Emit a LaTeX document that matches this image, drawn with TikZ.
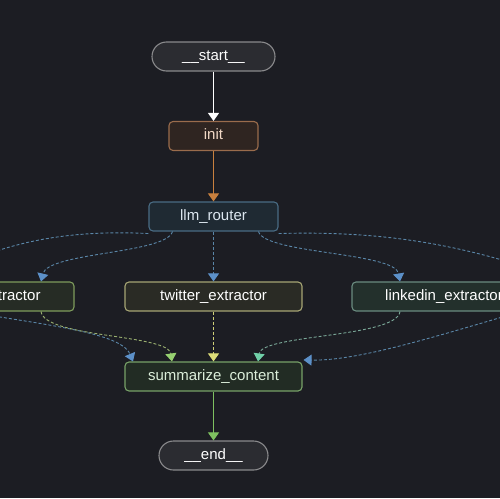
\documentclass[tikz,border=0pt]{standalone}
\usepackage{fontspec}
\setmainfont{Liberation Sans}
\usetikzlibrary{arrows.meta}
\definecolor{bg}{HTML}{1C1D23}
\definecolor{pillfill}{HTML}{2B2C31}
\definecolor{pilldraw}{HTML}{8A8A8C}
\definecolor{initfill}{HTML}{2F2521}
\definecolor{initdraw}{HTML}{9A6C4C}
\definecolor{inittext}{HTML}{F2D9C6}
\definecolor{routfill}{HTML}{1F2A33}
\definecolor{routdraw}{HTML}{4A6C84}
\definecolor{routtext}{HTML}{DDE7F0}
\definecolor{leftfill}{HTML}{262C25}
\definecolor{leftdraw}{HTML}{7E9C5C}
\definecolor{twfill}{HTML}{2A2B25}
\definecolor{twdraw}{HTML}{A6A574}
\definecolor{lifill}{HTML}{23302C}
\definecolor{lidraw}{HTML}{6A8C80}
\definecolor{sumfill}{HTML}{222C24}
\definecolor{sumdraw}{HTML}{78A268}
\definecolor{sumtext}{HTML}{DCEEDA}
\definecolor{blueline}{HTML}{5A86A8}
\definecolor{bluetip}{HTML}{5C90C8}
\definecolor{greenline}{HTML}{9AB070}
\definecolor{greentip}{HTML}{96D070}
\definecolor{yellowline}{HTML}{D0D078}
\definecolor{yellowtip}{HTML}{DCDC78}
\definecolor{tealline}{HTML}{7AA898}
\definecolor{tealtip}{HTML}{70D0A8}
\definecolor{orangeline}{HTML}{C8803E}
\definecolor{solidgreen}{HTML}{7EC060}
\tikzset{
  every node/.style={font=\fontsize{15}{17}\selectfont, text height=10.5pt, text depth=3pt},
  pill/.style={draw=pilldraw, fill=pillfill, line width=1.1pt, rounded corners=14.5pt, minimum height=29pt, text=white},
  box/.style={line width=1.1pt, rounded corners=4pt, minimum height=29pt},
  arr/.style={-{Triangle[width=11pt,length=8pt,#1]}},
  dsh/.style={dash pattern=on 3pt off 2pt, line width=0.9pt},
}
\begin{document}
\begin{tikzpicture}[x=1pt,y=-1pt]
\useasboundingbox (0,0) rectangle (500,498);
\fill[bg] (0,0) rectangle (500,498);
\clip (0,0) rectangle (500,498);
% nodes
\node[pill, minimum width=123pt] (start) at (213.5,56.5) {\_\_start\_\_};
\node[box, draw=initdraw, fill=initfill, text=inittext, minimum width=89pt] (init) at (213.5,136) {init};
\node[box, draw=routdraw, fill=routfill, text=routtext, minimum width=129pt] (router) at (213.5,216.5) {llm\_router};
\node[box, draw=leftdraw, fill=leftfill, text=white, minimum width=177pt, text width=110pt, align=right, inner xsep=31pt] (leftx) at (-14.5,296.5) {tractor};
\node[box, draw=twdraw, fill=twfill, text=white, minimum width=177pt] (twitter) at (213.5,296.5) {twitter\_extractor};
\node[box, draw=lidraw, fill=lifill, text=white, minimum width=184pt] (linkedin) at (444,296.5) {linkedin\_extractor};
\node[box, draw=sumdraw, fill=sumfill, text=sumtext, minimum width=177pt] (summ) at (213.5,376.5) {summarize\_content};
\node[pill, minimum width=109pt] (end) at (213.5,455.5) {\_\_end\_\_};
% offscreen ends
\coordinate (offL) at (-70,282);
\coordinate (offLb) at (-70,305);
\coordinate (offR) at (570,282);
\coordinate (offRb) at (540,306);
% edges
\draw[white, line width=1pt, arr={white}] (start) -- (init);
\draw[orangeline, line width=1pt, arr={orangeline}] (init) -- (router);
\draw[blueline, dsh, arr={bluetip}] ([xshift=-41pt]router.south) .. controls (166,254) and (48,252) .. (leftx.north -| 41,0);
\draw[blueline, dsh] ([yshift=-2pt]router.south west) .. controls (60,229) and (-10,245) .. (offL);
\draw[blueline, dsh, arr={bluetip}] (router) -- (twitter);
\draw[blueline, dsh, arr={bluetip}] ([xshift=45pt]router.south) .. controls (265,254) and (395,252) .. (linkedin.north -| 400,0);
\draw[blueline, dsh] ([yshift=-2pt]router.south east) .. controls (400,230) and (480,250) .. (offR);
\draw[blueline, dsh, arr={bluetip}] (offLb) .. controls (30,324) and (120,330) .. (summ.north -| 133,0);
\draw[greenline, dsh, arr={greentip}] (leftx.south -| 41,0) .. controls (45,338) and (168,334) .. (summ.north -| 172,0);
\draw[yellowline, dsh, arr={yellowtip}] (twitter) -- (summ);
\draw[tealline, dsh, arr={tealtip}] (linkedin.south -| 400,0) .. controls (396,338) and (262,334) .. (summ.north -| 258,0);
\draw[blueline, dsh, arr={bluetip}] (offRb) .. controls (440,335) and (360,361) .. ([xshift=1pt,yshift=1.5pt]summ.north east);
\draw[solidgreen, line width=1pt, arr={solidgreen}] (summ) -- (end);
\end{tikzpicture}
\end{document}
